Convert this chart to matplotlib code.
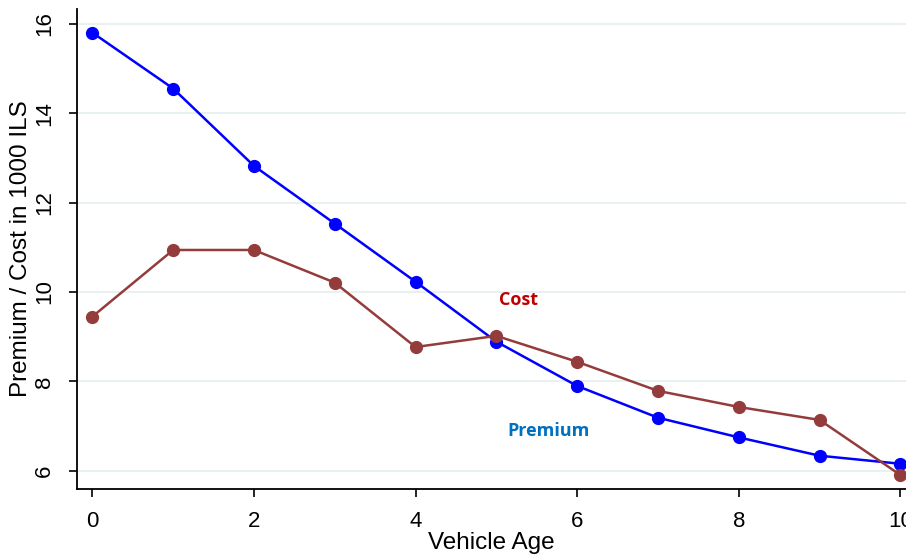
import matplotlib
matplotlib.use("Agg")
import matplotlib.pyplot as plt

# data
vehicle_age = [0, 1, 2, 3, 4, 5, 6, 7, 8, 9, 10]
premium = [15.8, 14.55, 12.82, 11.53, 10.23, 8.89, 7.9, 7.19, 6.75, 6.34, 6.16]
cost = [9.45, 10.94, 10.94, 10.21, 8.77, 9.02, 8.44, 7.79, 7.43, 7.14, 5.91]
y_ticks = [6, 8, 10, 12, 14, 16]
x_ticks = [0, 2, 4, 6, 8, 10]

plt.rcParams['font.family'] = ['Liberation Sans', 'DejaVu Sans']

fig = plt.figure(figsize=(9.06, 5.58), dpi=100)
ax = fig.add_axes([0.085, 0.124, 0.915, 0.86])

ax.plot(vehicle_age, premium, color='#0000FF', lw=1.8, marker='o', ms=8.5, zorder=3)
ax.plot(vehicle_age, cost, color='#943C3C', lw=1.8, marker='o', ms=8.5, zorder=3)

ax.set_xlim(-0.19, 10.07)
ax.set_ylim(5.6, 16.33)
ax.set_xticks(x_ticks)
ax.set_yticks(y_ticks)
ax.tick_params(axis='y', labelrotation=90, labelsize=16, length=6, width=1.2, pad=10)
ax.tick_params(axis='x', labelsize=16, length=6, width=1.2, pad=10)
for lab in ax.get_yticklabels():
    lab.set_va('center')

ax.grid(axis='y', color='#E6EFF1', lw=1.3)
ax.set_axisbelow(True)
for side in ['top', 'right']:
    ax.spines[side].set_visible(False)
for side in ['left', 'bottom']:
    ax.spines[side].set_linewidth(1.3)

ax.set_xlabel('Vehicle Age', fontsize=17.5, labelpad=0)
ax.set_ylabel('Premium / Cost in 1000 ILS', fontsize=17.5, labelpad=1)

ax.text(5.27, 9.83, 'Cost', color='#C00000', fontsize=13, fontweight='bold',
        family=['Open Sans', 'DejaVu Sans'], ha='center', va='center')
ax.text(5.64, 6.9, 'Premium', color='#0070C0', fontsize=13, fontweight='bold',
        family=['Open Sans', 'DejaVu Sans'], ha='center', va='center')

fig.savefig('out.png', dpi=100)
